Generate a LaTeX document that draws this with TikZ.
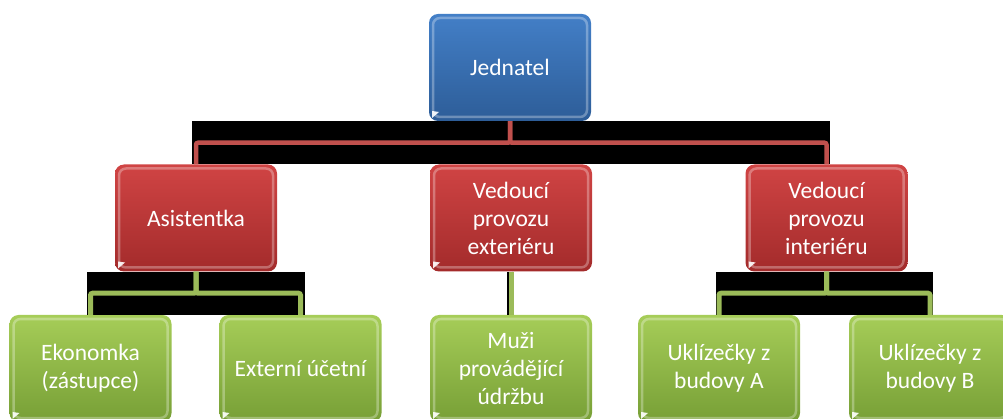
\documentclass[tikz,border=0pt]{standalone}
\usepackage{fontspec}
\setmainfont{Carlito}
\usetikzlibrary{calc}
\definecolor{bossTop}{HTML}{437FC7}
\definecolor{bossBot}{HTML}{2D5D98}
\definecolor{headTop}{HTML}{D04444}
\definecolor{headBot}{HTML}{A32B2B}
\definecolor{staffTop}{HTML}{A6CD58}
\definecolor{staffBot}{HTML}{779F36}
\definecolor{redLine}{HTML}{C0504D}
\definecolor{greenLine}{HTML}{9BBB59}

\begin{document}
\begin{tikzpicture}[
  x=1pt,y=-1pt,
  font=\fontsize{23.5}{28}\selectfont,
  glossy/.style={path picture={
    \draw[white,opacity=.3,line width=2.5pt,rounded corners=7pt]
      ([shift={(4pt,-4pt)}]path picture bounding box.north west) rectangle
      ([shift={(-4pt,4pt)}]path picture bounding box.south east);
    \fill[white,opacity=.9,sharp corners] ([shift={(3pt,3pt)}]path picture bounding box.south west)
      -- ++(0,7pt) -- ++(7pt,-1pt) -- cycle;
  }},
  box/.style={rounded corners=9pt,minimum width=162pt,minimum height=107pt,
    align=center,text=white,inner sep=2pt,glossy},
  boss/.style={box,top color=bossTop,bottom color=bossBot},
  head/.style={box,top color=headTop,bottom color=headBot},
  staff/.style={box,top color=staffTop,bottom color=staffBot},
  redlink/.style={draw=redLine,line width=4.5pt,rounded corners=2pt},
  greenlink/.style={draw=greenLine,line width=5pt,rounded corners=2pt},
  tree/.style={to path={(\tikztostart) |- ($(\tikztostart)!.5!(\tikztotarget)$) -| (\tikztotarget)}}
]
  \useasboundingbox (0,0) rectangle (1003,419);

  % nodes
  \node[boss] (jed) at (510,67.5) {Jednatel};
  \node[head] (asi) at (196,218) {Asistentka};
  \node[head] (vpe) at (511,218) {Vedoucí\\provozu\\exteriéru};
  \node[head] (vpi) at (826.5,218) {Vedoucí\\provozu\\interiéru};
  \node[staff] (eko) at (90.5,368.5) {Ekonomka\\(zástupce)};
  \node[staff] (ext) at (300.5,368.5) {Externí účetní};
  \node[staff] (muz) at (511,368.5) {Muži\\provádějící\\údržbu};
  \node[staff] (uka) at (719,368.5) {Uklízečky z\\budovy A};
  \node[staff] (ukb) at (930,368.5) {Uklízečky z\\budovy B};

  % black bands behind the connectors
  \fill ($(jed.south -| asi.north)+(-4,0)$) rectangle ($(vpi.north)+(3,0)$);
  \fill ($(asi.south -| eko.north)+(-4,0)$) rectangle ($(ext.north)+(4,0)$);
  \fill ($(vpi.south -| uka.north)+(-3,0)$) rectangle ($(ukb.north)+(3,0)$);

  % connectors
  \draw[redlink] (jed.south) to[tree] (asi.north);
  \draw[redlink] (jed.south) to[tree] (vpi.north);
  \draw[greenlink] (asi.south) to[tree] (eko.north);
  \draw[greenlink] (asi.south) to[tree] (ext.north);
  \draw[black,line width=6pt] ([xshift=-1.5pt]vpe.south) -- ([xshift=-1.5pt]muz.north);
  \draw[greenlink] (vpe.south) -- (muz.north);
  \draw[greenlink] (vpi.south) to[tree] (uka.north);
  \draw[greenlink] (vpi.south) to[tree] (ukb.north);
\end{tikzpicture}
\end{document}
